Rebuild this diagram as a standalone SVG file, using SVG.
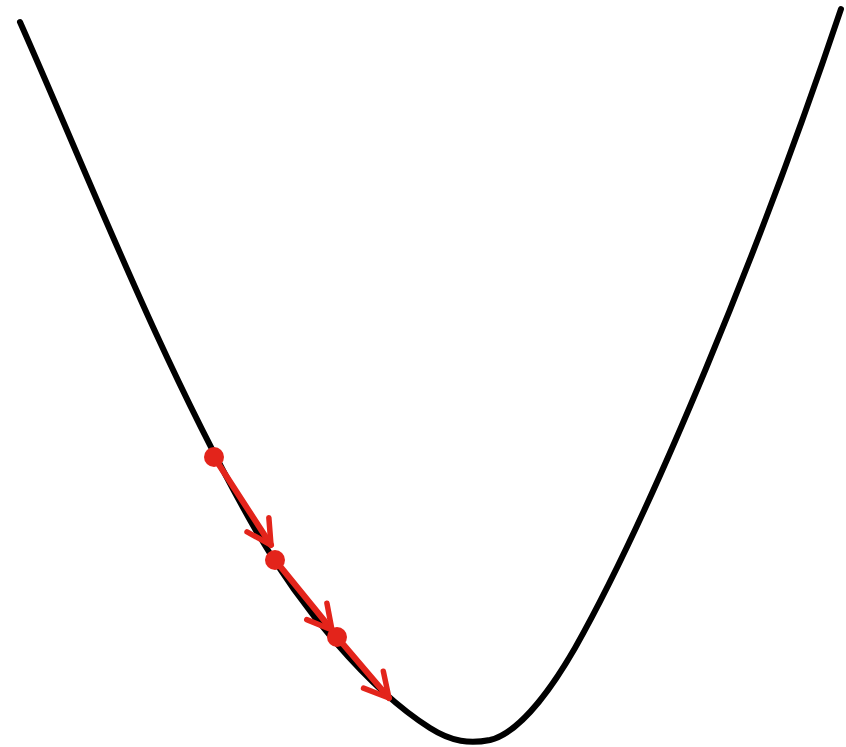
<svg xmlns="http://www.w3.org/2000/svg" width="846" height="747" viewBox="0 0 846 747">
<style>
.curve{fill:none;stroke:#000;stroke-width:6;stroke-linecap:round;stroke-linejoin:round}
.step{fill:none;stroke:#e3241b;stroke-width:6;stroke-linecap:round}
.dot{fill:#e3241b}
</style>
<defs>
<marker id="chev" markerUnits="userSpaceOnUse" markerWidth="40" markerHeight="40" viewBox="-30 -20 40 40" refX="0" refY="0" orient="auto">
<path d="M-24,-13 L0,0 L-24,13" fill="none" stroke="#e3241b" stroke-width="5.5" stroke-linecap="round" stroke-linejoin="round"/>
</marker>
</defs>
<rect width="846" height="747" fill="#fff"/>
<g id="curve">
<path class="curve" d="M20,22 C90,180 160,360 250,520 C300,609 370,690 430,728 C452,742 470,744 490,740 C515,734 545,700 575,648 C650,515 760,250 841,9"/>
</g>
<g id="connectors">
<line class="step" x1="214" y1="457" x2="271" y2="545" marker-end="url(#chev)"/>
<line class="step" x1="275" y1="560" x2="332" y2="630" marker-end="url(#chev)"/>
<line class="step" x1="337" y1="637" x2="389" y2="698" marker-end="url(#chev)"/>
</g>
<g id="points">
<circle class="dot" cx="214" cy="457" r="10"/>
<circle class="dot" cx="275" cy="560" r="10"/>
<circle class="dot" cx="337" cy="637" r="10"/>
</g>
</svg>
